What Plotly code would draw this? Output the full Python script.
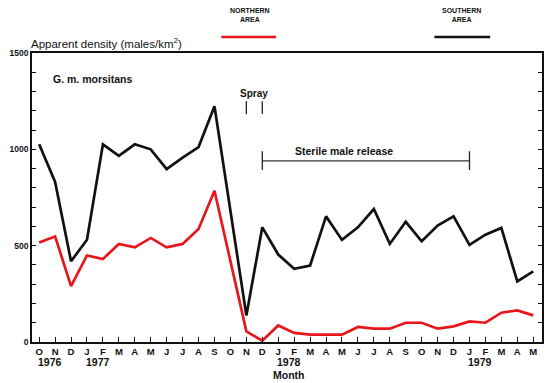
import plotly.graph_objects as go

# ---- data ----
months = ["O", "N", "D", "J", "F", "M", "A", "M", "J", "J", "A", "S",
          "O", "N", "D", "J", "F", "M", "A", "M", "J", "J", "A", "S",
          "O", "N", "D", "J", "F", "M", "A", "M"]
year_labels = ["1976", "1977", "1978", "1979"]
year_positions = [0, 3, 15, 27]
southern = [1026, 831, 419, 531, 1026, 966, 1026, 1000, 897, 957, 1012, 1224,
            None, 138, 595, 454, 380, 397, 652, 530, 595, 690, 509, 624,
            523, 604, 652, 504, 557, 592, 314, 366]
northern = [517, 548, 290, 449, 431, 509, 491, 540, 491, 509, 587, 785,
            None, 55, 7, 86, 47, 38, 38, 38, 78, 69, 69, 100,
            100, 69, 81, 107, 100, 152, 164, 138]
y_tick_values = [0, 500, 1000, 1500]
spray_months = [13, 14]
release_start, release_end = 14, 27

x = list(range(len(months)))

W, H = 552, 383
ML, MR, MT, MB = 32, 8, 53, 41
pw, ph = W - ML - MR, H - MT - MB


def px(xp):
    return (xp - ML) / pw


def py(yp):
    return (H - MB - yp) / ph


FONT = "Liberation Sans"
fig = go.Figure()
fig.add_trace(go.Scatter(x=x, y=southern, mode="lines", connectgaps=True,
                         line=dict(color="#111111", width=2.7), showlegend=False))
fig.add_trace(go.Scatter(x=x, y=northern, mode="lines", connectgaps=True,
                         line=dict(color="#e8161b", width=2.7), showlegend=False))

shapes = []
# spray marks
for m in spray_months:
    shapes.append(dict(type="line", xref="x", yref="y", x0=m, x1=m, y0=1183, y1=1250,
                       line=dict(color="#222", width=1.3)))
# sterile male release bar
shapes.append(dict(type="line", xref="x", yref="y", x0=release_start, x1=release_end,
                   y0=940, y1=940, line=dict(color="#333", width=1.3)))
for m in (release_start, release_end):
    shapes.append(dict(type="line", xref="x", yref="y", x0=m, x1=m, y0=893, y1=990,
                       line=dict(color="#222", width=1.3)))
# legend lines
shapes.append(dict(type="line", xref="paper", yref="paper", x0=px(222), x1=px(277),
                   y0=py(37), y1=py(37), line=dict(color="#e8161b", width=2.6)))
shapes.append(dict(type="line", xref="paper", yref="paper", x0=px(436), x1=px(492),
                   y0=py(37), y1=py(37), line=dict(color="#111111", width=2.6)))

annotations = [
    dict(text="<b>NORTHERN<br>AREA</b>", xref="paper", yref="paper", x=px(251), y=py(15),
         showarrow=False, font=dict(family=FONT, size=7, color="#111"), xanchor="center",
         yanchor="middle"),
    dict(text="<b>SOUTHERN<br>AREA</b>", xref="paper", yref="paper", x=px(463), y=py(15),
         showarrow=False, font=dict(family=FONT, size=7, color="#111"), xanchor="center",
         yanchor="middle"),
    dict(text="Apparent density (males/km<sup>2</sup>)", xref="paper", yref="paper",
         x=px(29), y=py(43), showarrow=False, xanchor="left", yanchor="middle",
         font=dict(family=FONT, size=11.5, color="#111")),
    dict(text="<b>G. m. morsitans</b>", xref="paper", yref="paper", x=px(51), y=py(79),
         showarrow=False, xanchor="left", yanchor="middle",
         font=dict(family=FONT, size=10.5, color="#111")),
    dict(text="<b>Spray</b>", xref="x", yref="paper", x=13.5, y=py(93),
         showarrow=False, xanchor="center", yanchor="middle",
         font=dict(family=FONT, size=10, color="#111")),
    dict(text="<b>Sterile male release</b>", xref="x", yref="paper", x=19.1, y=py(151),
         showarrow=False, xanchor="center", yanchor="middle",
         font=dict(family=FONT, size=10.5, color="#111")),
    dict(text="<b>Month</b>", xref="paper", yref="paper", x=px(272), y=py(375),
         showarrow=False, xanchor="left", yanchor="middle",
         font=dict(family=FONT, size=10.5, color="#111")),
]
for lab, pos in zip(year_labels, year_positions):
    annotations.append(dict(text="<b>%s</b>" % lab, xref="x", yref="paper", x=pos - 0.2,
                            y=py(362), showarrow=False, xanchor="left", yanchor="middle",
                            font=dict(family=FONT, size=10.5, color="#111")))

fig.update_layout(
    width=W, height=H, margin=dict(l=ML, r=MR, t=MT, b=MB),
    paper_bgcolor="white", plot_bgcolor="white",
    shapes=shapes, annotations=annotations,
    xaxis=dict(range=[-0.45, 31.55], tickvals=x, ticktext=["<b>%s</b>" % m for m in months],
               ticks="inside", ticklen=5, tickwidth=1.2, tickcolor="#111",
               showline=True, linecolor="#111", linewidth=1.6, mirror=True,
               showgrid=False, zeroline=False,
               tickfont=dict(family=FONT, size=9.5, color="#111")),
    yaxis=dict(range=[0, 1500], tickvals=y_tick_values,
               ticktext=["<b>%d</b>" % v for v in y_tick_values],
               ticks="inside", ticklen=4, tickwidth=1.2, tickcolor="#111",
               minor=dict(dtick=100, ticks="inside", ticklen=4, tickwidth=1.2,
                          tickcolor="#111", showgrid=False),
               showline=True, linecolor="#111", linewidth=1.6, mirror="ticks",
               showgrid=False, zeroline=False,
               tickfont=dict(family=FONT, size=8.5, color="#111")),
)

fig.write_html("out.html", config={"displayModeBar": False},
               post_script="document.body.style.margin='0';")
